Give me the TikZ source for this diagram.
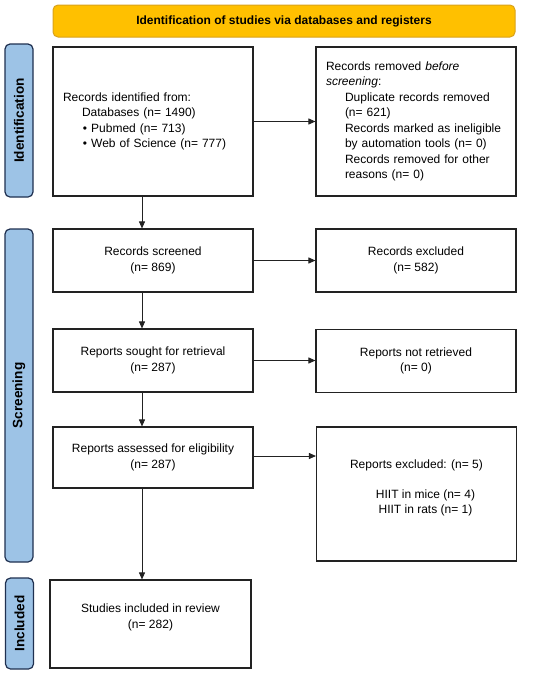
\documentclass[tikz,border=0pt]{standalone}
\usepackage{fontspec}
\setmainfont{Liberation Sans}
\usetikzlibrary{arrows.meta}
\definecolor{bannerfill}{HTML}{FFC000}
\definecolor{bannerline}{HTML}{D9A21B}
\definecolor{sidefill}{HTML}{9DC3E6}
\definecolor{sideline}{HTML}{1F3050}
\definecolor{boxline}{HTML}{222222}
\tikzset{
  x=1pt, y=-1pt,
  txt/.style={font=\fontsize{12}{15.5}\selectfont},
  flowbox/.style={draw=boxline, line width=1.1pt, fill=white, txt, inner sep=0pt, align=center},
  sidebox/.style={draw=sideline, line width=1.2pt, fill=sidefill, rounded corners=5pt, inner sep=0pt},
  sidetext/.style={font=\fontsize{13.6}{15}\selectfont\bfseries, rotate=90},
  banner/.style={draw=bannerline, line width=1pt, fill=bannerfill, rounded corners=5pt, inner sep=0pt,
    font=\fontsize{12}{14}\selectfont\bfseries},
  arr/.style={draw=boxline, line width=0.9pt, -{Triangle[length=7pt,width=6pt]}}
}
\begin{document}
\begin{tikzpicture}
\useasboundingbox (0,0) rectangle (550,675);
\fill[white] (0,0) rectangle (550,675);

% banner
\node[banner, minimum width=462pt, minimum height=32pt] (banner) at (284,21) {Identification of studies via databases and registers};

% side labels
\node[sidebox, minimum width=28pt, minimum height=153pt] (sideid) at (19,120.5) {};
\node[sidetext] (sideidt) at (sideid.center) {Identification};
\node[sidebox, minimum width=28pt, minimum height=333pt] (sidescr) at (19,395.5) {};
\node[sidetext] (sidescrt) at (sidescr.center) {Screening};
\node[sidebox, minimum width=28pt, minimum height=91pt] (sideinc) at (19.5,623.5) {};
\node[sidetext] (sideinct) at (sideinc.center) {Included};

% identification
\node[flowbox, minimum width=200pt, minimum height=149pt, text width=180pt, align=left] (ident) at (153,121.5)
  {Records identified from:\\
   \hspace*{19pt}Databases (n= 1490)\\
   \hspace*{20pt}\textbullet\ Pubmed (n= 713)\\
   \hspace*{20pt}\textbullet\ Web of Science (n= 777)};
\node[flowbox, minimum width=200pt, minimum height=149pt, text width=180pt, align=left] (removed) at (416,121.5)
  {Records removed \emph{before}\\
   \emph{screening}:\\
   \hspace*{19pt}Duplicate records removed\\
   \hspace*{19pt}(n= 621)\\
   \hspace*{19pt}Records marked as ineligible\\
   \hspace*{19pt}by automation tools (n= 0)\\
   \hspace*{19pt}Records removed for other\\
   \hspace*{19pt}reasons (n= 0)};

% screening
\node[flowbox, minimum width=200pt, minimum height=63pt] (screened) at (153,260.5) {Records screened\\(n= 869)};
\node[flowbox, minimum width=200pt, minimum height=63pt] (excluded) at (416,260.5) {Records excluded\\(n= 582)};
\node[flowbox, minimum width=200pt, minimum height=63pt] (sought) at (153,360.5) {Reports sought for retrieval\\(n= 287)};
\node[flowbox, minimum width=200pt, minimum height=63pt] (notret) at (416,361) {Reports not retrieved\\(n= 0)};
\node[flowbox, minimum width=200pt, minimum height=61pt] (assessed) at (153,457.5) {Reports assessed for eligibility\\(n= 287)};
\node[flowbox, minimum width=200pt, minimum height=134pt] (repexcl) at (416.5,494)
  {Reports excluded: (n= 5)\\[14pt]
   \hspace*{18pt}HIIT in mice (n= 4)\\
   \hspace*{18pt}HIIT in rats (n= 1)\rule[-14pt]{0pt}{0pt}};

% included
\node[flowbox, minimum width=201pt, minimum height=88pt] (studies) at (150.5,624)
  {Studies included in review\\(n= 282)\rule[-16pt]{0pt}{0pt}};

% connectors
\draw[arr] (ident.east) -- (removed.west);
\draw[arr] (screened.east) -- (excluded.west);
\draw[arr] (sought.east) -- (sought.east -| notret.west);
\draw[arr] ([yshift=1.5pt]assessed.east) -- ([yshift=1.5pt]assessed.east -| repexcl.west);
\draw[arr] ([xshift=-11pt]ident.south) -- ([xshift=-11pt]screened.north);
\draw[arr] ([xshift=-11pt]screened.south) -- ([xshift=-11pt]sought.north);
\draw[arr] ([xshift=-11pt]sought.south) -- ([xshift=-11pt]assessed.north);
\draw[arr] ([xshift=-11pt]assessed.south) -- ([xshift=-11pt]assessed.south |- studies.north);
\end{tikzpicture}
\end{document}
